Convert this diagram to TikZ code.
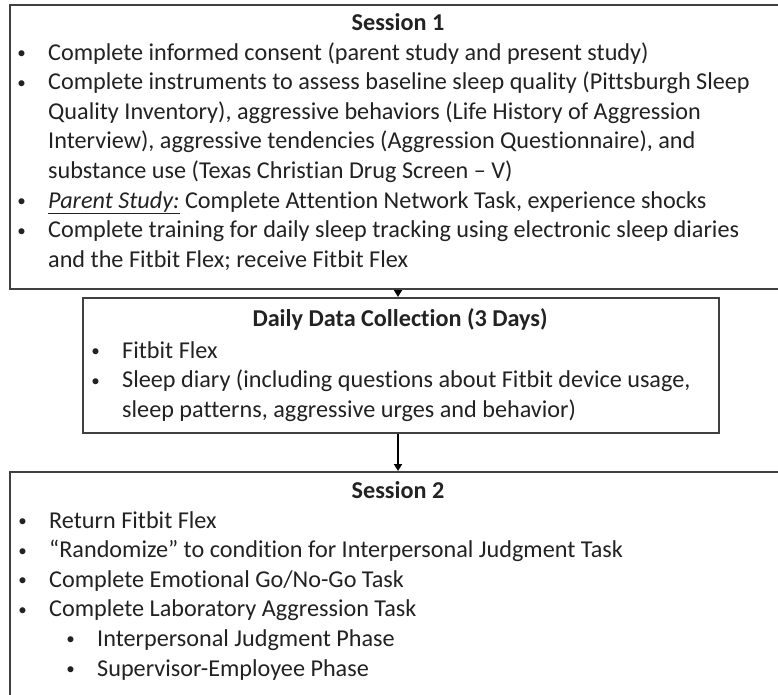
\documentclass[tikz,border=0pt]{standalone}
\usepackage{fontspec}
\setmainfont{Carlito}[Ligatures={NoCommon}]
\usetikzlibrary{arrows.meta}
\definecolor{boxgray}{HTML}{404040}
\definecolor{textgray}{HTML}{222222}
\newcommand{\bulglyph}{\raisebox{1.6pt}{\fontsize{17}{17}\selectfont •}}
\newcommand{\bul}{\llap{\makebox[53pt][c]{\bulglyph}}}
\newcommand{\itm}[1]{\par\leftskip=0pt\relax\noindent\bul #1}
\newcommand{\subitm}[1]{\par\leftskip=48pt\relax\noindent\bul #1}
\newcommand{\bodyfont}{\fontsize{24.2}{29.6}\selectfont}
\newcommand{\lines}[1]{\parbox[t]{800pt}{\raggedright\hbadness=10000\bodyfont #1}}
\tikzset{
  box/.style={draw=boxgray, line width=1.5pt, rectangle, inner sep=0pt, anchor=north west},
  txt/.style={anchor=base west, inner sep=0pt, text=textgray},
  ttl/.style={anchor=base, inner sep=0pt, text=textgray, font=\bodyfont\bfseries},
  conn/.style={draw=black, line width=1.8pt, -{Triangle[length=7pt,width=8pt]}},
}
\begin{document}
\begin{tikzpicture}
\useasboundingbox (0,0) rectangle (778pt,-694pt);
\clip (0,0) rectangle (778pt,-694pt);
\fill[white] (0,0) rectangle (778pt,-694pt);
% boxes
\node[box, minimum width=800pt, minimum height=284pt] (s1) at (9pt,-4pt) {};
\node[box, minimum width=636pt, minimum height=135pt] (dd) at (82pt,-297pt) {};
\node[box, minimum width=800pt, minimum height=260pt] (s2) at (9pt,-471pt) {};
% Session 1
\node[ttl] (s1h) at (398pt,-30pt) {Session 1};
\node[txt] (s1t) at (48pt,-60pt) {\lines{%
\itm{Complete informed consent (parent study and present study)}
\itm{Complete instruments to assess baseline sleep quality (Pittsburgh Sleep\\
Quality Inventory), aggressive behaviors (Life History of Aggression\\
Interview), aggressive tendencies (Aggression Questionnaire), and\\
substance use (Texas Christian Drug Screen – V)}
\itm{\underline{\textit{Parent Study:}} Complete Attention Network Task, experience shocks}
\itm{Complete training for daily sleep tracking using electronic sleep diaries\\
and the Fitbit Flex; receive Fitbit Flex}}};
% Daily data collection
\node[ttl] (ddh) at (400pt,-326pt) {Daily Data Collection (3 Days)};
\node[txt] (ddt) at (122pt,-358pt) {\lines{%
\itm{Fitbit Flex}
\itm{Sleep diary (including questions about Fitbit device usage,\\
sleep patterns, aggressive urges and behavior)}}};
% Session 2
\node[ttl] (s2h) at (398pt,-498pt) {Session 2};
\node[txt] (s2t) at (49pt,-528pt) {\lines{%
\itm{Return Fitbit Flex}
\itm{“Randomize” to condition for Interpersonal Judgment Task}
\itm{Complete Emotional Go/No-Go Task}
\itm{Complete Laboratory Aggression Task}
\subitm{Interpersonal Judgment Phase}
\subitm{Supervisor-Employee Phase}}};
% connectors
\draw[conn] (s1.south -| 398pt,0) -- (dd.north -| 398pt,0);
\draw[conn] (dd.south -| 398pt,0) -- (s2.north -| 398pt,0);
\end{tikzpicture}
\end{document}
